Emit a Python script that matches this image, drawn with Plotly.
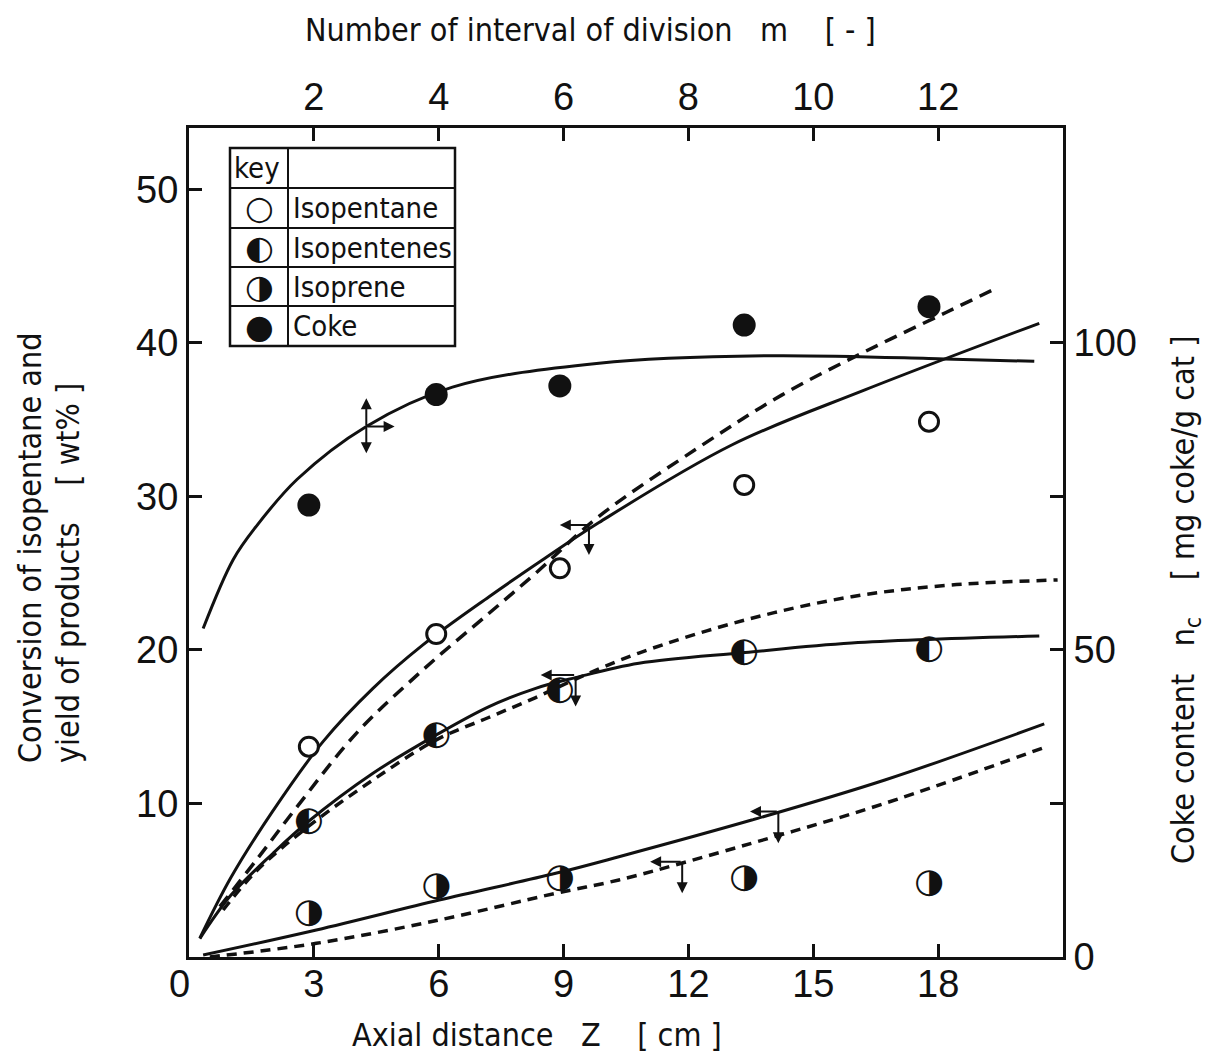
import plotly.graph_objects as go

# ---------------- data ----------------
# measured points, axial distance Z [cm]
z_pts = [2.88, 5.94, 8.91, 13.34, 17.78]
isopentane = [13.70, 21.04, 25.32, 30.75, 34.87]      # wt%
isopentenes = [8.81, 14.46, 17.33, 19.83, 20.05]      # wt%
isoprene = [2.85, 4.58, 5.13, 5.13, 4.80]             # wt%
coke = [73.6, 91.6, 93.0, 102.9, 105.9]               # mg coke / g cat (right axis)

# calculated curves
coke_z = [0.34, 1.06, 1.6, 2.6, 4.26, 6.33, 9.85, 13.84, 18.16, 20.31]
coke_curve = [53.5, 64.7, 70.0, 77.8, 86.4, 92.8, 96.7, 97.9, 97.4, 97.0]

ipa_solid_z = [0.26, 1.0, 2.0, 3.22, 4.42, 5.62, 7.21, 8.49, 9.85, 13.04, 16.24, 20.43]
ipa_solid = [1.22, 5.14, 9.45, 14.03, 17.5, 20.33, 23.47, 25.86, 28.3, 33.35, 36.94, 41.28]
ipa_dash_z = [0.74, 1.62, 2.66, 4.02, 5.62, 7.21, 8.33, 9.85, 12.25, 14.24, 16.24, 18.2, 19.35]
ipa_dash = [3.28, 6.32, 10.01, 14.57, 18.7, 22.39, 25.0, 28.7, 33.2, 36.6, 39.43, 42.0, 43.5]

ipe_solid_z = [0.26, 1.0, 2.02, 2.86, 4.42, 5.94, 7.21, 8.33, 9.29, 10.81, 13.36, 15.92, 20.43]
ipe_solid = [1.2, 4.0, 6.76, 8.81, 11.97, 14.46, 16.31, 17.5, 18.2, 19.13, 19.83, 20.45, 20.91]
ipe_dash_z = [0.82, 1.62, 2.86, 4.42, 5.94, 7.2, 8.33, 9.29, 10.81, 13.36, 15.92, 18.32, 20.87]
ipe_dash = [3.06, 5.6, 8.49, 11.53, 14.14, 15.6, 16.9, 18.1, 19.8, 21.95, 23.47, 24.23, 24.56]

ipr_solid_z = [0.34, 3.06, 6.01, 8.81, 10.33, 13.52, 16.72, 20.55]
ipr_solid = [0.13, 1.76, 3.71, 5.45, 6.53, 8.92, 11.53, 15.18]
ipr_dash_z = [0.5, 3.06, 6.01, 8.81, 10.33, 13.52, 16.72, 20.6]
ipr_dash = [0.0, 0.89, 2.41, 4.15, 5.02, 7.41, 10.01, 13.70]

x_ticks = [0, 3, 6, 9, 12, 15, 18]
x_labels = ["0\u2002", "3", "6", "9", "12", "15", "18"]
m_ticks = [2, 4, 6, 8, 10, 12]
y_ticks = [10, 20, 30, 40, 50]
y2_ticks = [0, 50, 100]
y2_minor = [25, 75]

legend_names = ["Isopentane", "Isopentenes", "Isoprene", "Coke"]
legend_glyphs = ["\u25CB", "\u25D0", "\u25D1", "\u25CF"]

# ---------------- styling ----------------
NARROW = "Liberation Sans Narrow, DejaVu Sans Condensed, Arial Narrow, Liberation Sans, sans-serif"
NUM = "Liberation Sans, Arial, sans-serif"
GLYPH = "DejaVu Sans"
BLACK = "#111111"

fig = go.Figure()

def curve(xs, ys, dash, yaxis="y", width=3):
    fig.add_trace(go.Scatter(x=xs, y=ys, mode="lines", yaxis=yaxis,
                             line=dict(color=BLACK, width=width, dash=dash, shape="spline", smoothing=1.0),
                             showlegend=False, hoverinfo="skip"))

curve(coke_z, coke_curve, "solid", yaxis="y2", width=3)
curve(ipa_solid_z, ipa_solid, "solid")
curve(ipa_dash_z, ipa_dash, "13px,8px", width=3.5)
curve(ipe_solid_z, ipe_solid, "solid")
curve(ipe_dash_z, ipe_dash, "10px,7px", width=3.5)
curve(ipr_solid_z, ipr_solid, "solid")
curve(ipr_dash_z, ipr_dash, "10px,7px", width=3.5)

# markers
fig.add_trace(go.Scatter(x=z_pts, y=isopentane, mode="markers", name="Isopentane",
                         marker=dict(symbol="circle", size=19, color="white",
                                     line=dict(color=BLACK, width=3)), showlegend=False))
fig.add_trace(go.Scatter(x=z_pts, y=coke, mode="markers", name="Coke", yaxis="y2",
                         marker=dict(symbol="circle", size=23, color=BLACK,
                                     line=dict(color=BLACK, width=0)), showlegend=False))
fig.add_trace(go.Scatter(x=z_pts, y=isopentenes, mode="text", name="Isopentenes",
                         text=[legend_glyphs[1]] * len(z_pts), textposition="middle center",
                         textfont=dict(family=GLYPH, size=34, color=BLACK), showlegend=False))
fig.add_trace(go.Scatter(x=z_pts, y=isoprene, mode="text", name="Isoprene",
                         text=[legend_glyphs[2]] * len(z_pts), textposition="middle center",
                         textfont=dict(family=GLYPH, size=34, color=BLACK), showlegend=False))

# axis-indicator arrows
arrows = [
    ((4.26, 34.55), (4.26, 36.4)),
    ((4.26, 34.55), (4.26, 32.81)),
    ((4.26, 34.55), (4.94, 34.55)),
    ((9.61, 28.14), (8.91, 28.14)),
    ((9.61, 28.14), (9.61, 26.19)),
    ((9.29, 18.37), (8.45, 18.37)),
    ((9.29, 18.37), (9.29, 16.31)),
    ((14.16, 9.47), (13.48, 9.47)),
    ((14.16, 9.47), (14.16, 7.41)),
    ((11.85, 6.21), (11.08, 6.21)),
    ((11.85, 6.21), (11.85, 4.15)),
]
annotations = []
for (tx, ty), (hx, hy) in arrows:
    annotations.append(dict(x=hx, y=hy, ax=tx, ay=ty, xref="x", yref="y", axref="x", ayref="y",
                            showarrow=True, arrowhead=2, arrowsize=1.1, arrowwidth=2,
                            arrowcolor=BLACK, text="", standoff=0, startstandoff=0))

# ---------------- legend table (key) ----------------
PL, PR, PT, PB = 189, 1063, 128, 957
W, H = PR - PL, PB - PT
def px(x):
    return (x - PL) / W
def py(y):
    return (PB - y) / H

box_l, box_r, box_div = 230, 455, 288
rows = [148, 188, 228, 267, 306, 346]
shapes = [dict(type="rect", xref="paper", yref="paper", x0=px(box_l), x1=px(box_r),
               y0=py(rows[-1]), y1=py(rows[0]), line=dict(color=BLACK, width=2.5),
               fillcolor="white", layer="above")]
shapes.append(dict(type="line", xref="paper", yref="paper", x0=px(box_div), x1=px(box_div),
                   y0=py(rows[-1]), y1=py(rows[0]), line=dict(color=BLACK, width=2), layer="above"))
for r in rows[1:-1]:
    shapes.append(dict(type="line", xref="paper", yref="paper", x0=px(box_l), x1=px(box_r),
                       y0=py(r), y1=py(r), line=dict(color=BLACK, width=2), layer="above"))

LFONT = dict(family=NARROW, size=29, color=BLACK)
annotations.append(dict(x=px(box_l + 2), y=py((rows[0] + rows[1]) / 2), xref="paper", yref="paper",
                        text="key", showarrow=False, xanchor="left", yanchor="middle", font=LFONT))
for i, (name, g) in enumerate(zip(legend_names, legend_glyphs)):
    yc = py((rows[i + 1] + rows[i + 2]) / 2)
    annotations.append(dict(x=px((box_l + box_div) / 2), y=yc, xref="paper", yref="paper",
                            text=g, showarrow=False, xanchor="center", yanchor="middle",
                            font=dict(family=GLYPH, size=33, color=BLACK)))
    annotations.append(dict(x=px(box_div + 3), y=yc, xref="paper", yref="paper",
                            text=name, showarrow=False, xanchor="left", yanchor="middle", font=LFONT))

# ---------------- axis titles ----------------
TFONT = dict(family=NARROW, size=32, color=BLACK)
annotations += [
    dict(x=px(590), y=py(30), xref="paper", yref="paper", showarrow=False,
         text="Number of interval of division&nbsp;&nbsp;&nbsp;m&nbsp;&nbsp;&nbsp;&nbsp;[ - ]",
         font=TFONT, xanchor="center", yanchor="middle"),
    dict(x=px(537), y=py(1035), xref="paper", yref="paper", showarrow=False,
         text="Axial distance&nbsp;&nbsp;&nbsp;Z&nbsp;&nbsp;&nbsp;&nbsp;[ cm ]",
         font=TFONT, xanchor="center", yanchor="middle"),
    dict(x=px(30), y=py(765), xref="paper", yref="paper", showarrow=False,
         text="Conversion of isopentane and", textangle=-90,
         font=TFONT, xanchor="center", yanchor="bottom"),
    dict(x=px(68), y=py(765), xref="paper", yref="paper", showarrow=False,
         text="yield of products&nbsp;&nbsp;&nbsp;&nbsp;[ wt% ]", textangle=-90,
         font=TFONT, xanchor="center", yanchor="bottom"),
    dict(x=px(1185), y=py(600), xref="paper", yref="paper", showarrow=False,
         text="Coke content&nbsp;&nbsp;&nbsp;n<sub>c</sub>&nbsp;&nbsp;&nbsp;&nbsp;[ mg coke/g cat ]", textangle=-90,
         font=TFONT, xanchor="center", yanchor="middle"),
]

AX = dict(showgrid=False, zeroline=False, showline=True, linecolor=BLACK, linewidth=3,
          ticks="inside", ticklen=13, tickwidth=2.5, tickcolor=BLACK,
          tickfont=dict(family=NUM, size=38, color=BLACK))

fig.update_layout(
    width=1232, height=1055,
    margin=dict(l=PL, r=1232 - PR, t=PT, b=1055 - PB),
    paper_bgcolor="white", plot_bgcolor="white",
    showlegend=False,
    xaxis=dict(AX, range=[0, 21], tickvals=x_ticks, ticktext=x_labels, ticklabelstandoff=-9),
    xaxis2=dict(AX, range=[0, 14], tickvals=m_ticks, overlaying="x", side="top", anchor="y"),
    yaxis=dict(AX, range=[0, 54], tickvals=y_ticks),
    yaxis2=dict(AX, range=[0, 135], tickvals=y2_ticks,
                minor=dict(tickvals=y2_minor, ticks="inside", ticklen=13, tickwidth=2.5, tickcolor=BLACK),
                overlaying="y", side="right", anchor="x"),
    shapes=shapes,
    annotations=annotations,
)
# keep an (empty) trace on the top axis so it is drawn
fig.add_trace(go.Scatter(x=[], y=[], xaxis="x2", showlegend=False))

fig.write_html("out.html")
